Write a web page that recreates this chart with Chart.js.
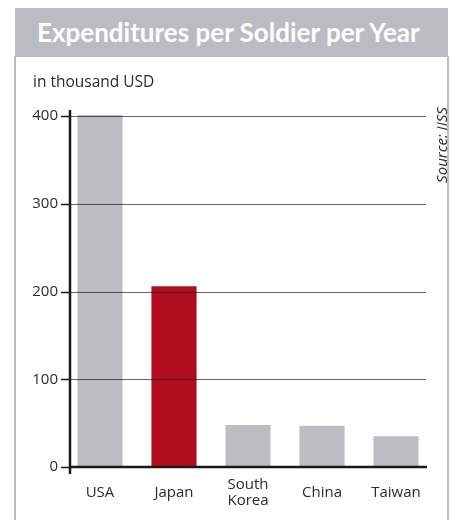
<!DOCTYPE html>
<html>
<head>
<meta charset="utf-8">
<script src="https://cdn.jsdelivr.net/npm/chart.js@4"></script>
<style>
  body { margin: 0; background: #fff; }
  #wrap { position: relative; width: 452px; height: 520px; overflow: hidden; font-family: 'Open Sans', sans-serif; }
  #graphique { position: absolute; left: 0; top: 0; }
  .bord { position: absolute; top: 56px; width: 2px; height: 470px; background: #bbbcc0; }
  #titre {
    position: absolute; left: 15px; top: 8px; width: 433px; height: 49px;
    background: #bbbcc0; color: #fff; font: bold 26px Lato, sans-serif;
    line-height: 49px; padding-left: 22px; box-sizing: border-box; white-space: nowrap;
  }
  #unite { position: absolute; left: 33px; top: 70px; font-size: 15.5px; color: #2a2a2a; }
  #source {
    position: absolute; left: 441px; top: 145px; font-size: 15px; font-style: italic; color: #2a2a2a;
    transform: translate(-50%, -50%) rotate(-90deg); white-space: nowrap;
  }
</style>
</head>
<body>
<div id="wrap">
  <canvas id="graphique" width="452" height="520"></canvas>
  <div class="bord" style="left:14px"></div>
  <div class="bord" style="left:447px"></div>
  <div id="titre">Expenditures per Soldier per Year</div>
  <div id="unite">in thousand USD</div>
  <div id="source">Source: IISS</div>
</div>
<script>
const pays = ['USA', 'Japan', ['South', 'Korea'], 'China', 'Taiwan'];
const depenses = [401, 206, 48, 47, 35];
const graduations = [0, 100, 200, 300, 400];
const paysEnAvant = 'Japan';

const couleurs = pays.map((p) => (p === paysEnAvant ? '#b00e1e' : '#bcbdc1'));

// axes + grille dessinés par-dessus les barres, comme sur l'original
const axesPlugin = {
    id: 'axes',
    afterDatasetsDraw(chart) {
        const ctx = chart.ctx;
        const y = chart.scales.y;
        const xAxe = 70;
        const xFin = 426;
        ctx.save();
        ctx.strokeStyle = 'rgba(0, 0, 0, 0.6)';
        ctx.lineWidth = 1;
        for (let i = 1; i < graduations.length; i++) {
            const py = Math.round(y.getPixelForValue(graduations[i])) + 0.5;
            ctx.beginPath();
            ctx.moveTo(xAxe, py);
            ctx.lineTo(xFin, py);
            ctx.stroke();
        }
        ctx.strokeStyle = '#1a1a1a';
        ctx.lineWidth = 1.5;
        for (let i = 0; i < graduations.length; i++) {
            const py = Math.round(y.getPixelForValue(graduations[i])) + 0.5;
            ctx.beginPath();
            ctx.moveTo(xAxe - 9, py);
            ctx.lineTo(xAxe, py);
            ctx.stroke();
        }
        const zero = y.getPixelForValue(0);
        ctx.lineWidth = 2.5;
        ctx.beginPath();
        ctx.moveTo(xAxe, y.getPixelForValue(graduations[graduations.length - 1]) - 6);
        ctx.lineTo(xAxe, zero + 7);
        ctx.stroke();
        ctx.beginPath();
        ctx.moveTo(xAxe, zero);
        ctx.lineTo(xFin + 1, zero);
        ctx.stroke();
        ctx.restore();
    },
};

new Chart(document.querySelector('#graphique'), {
    type: 'bar',
    data: {
        labels: pays,
        datasets: [
            {
                data: depenses,
                backgroundColor: couleurs,
                categoryPercentage: 1,
                barPercentage: 0.61,
                clip: false,
            },
        ],
    },
    options: {
        responsive: false,
        animation: false,
        layout: { padding: { left: 0, right: 19, top: 116, bottom: 0 } },
        plugins: { legend: { display: false }, tooltip: { enabled: false } },
        scales: {
            x: {
                grid: { display: false, drawTicks: false },
                border: { display: false },
                ticks: {
                    color: '#2a2a2a',
                    font: { family: 'Open Sans', size: 15, lineHeight: 1.05 },
                    crossAlign: 'center',
                    padding: 18,
                    maxRotation: 0,
                    autoSkip: false,
                },
                afterFit(scale) {
                    scale.height = 53;
                },
            },
            y: {
                min: 0,
                max: 400,
                grid: { display: false, drawTicks: false },
                border: { display: false },
                afterBuildTicks(scale) {
                    scale.ticks = graduations.map((v) => ({ value: v }));
                },
                ticks: {
                    color: '#2a2a2a',
                    font: { family: 'Open Sans', size: 15 },
                    padding: 5,
                },
                afterFit(scale) {
                    scale.width = 63;
                },
            },
        },
    },
    plugins: [axesPlugin],
});
</script>
</body>
</html>
